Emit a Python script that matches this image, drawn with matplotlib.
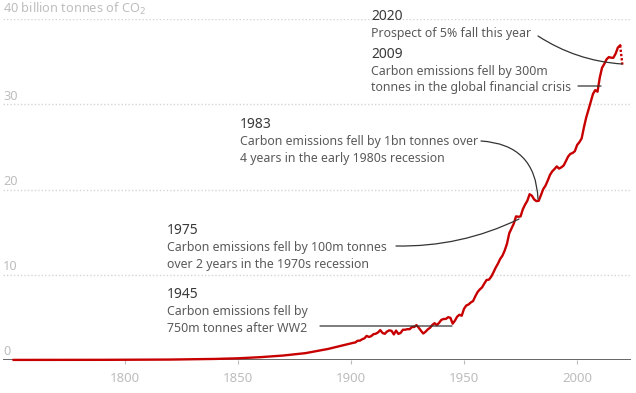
import matplotlib
matplotlib.use("Agg")
import matplotlib.pyplot as plt

years = [1751, 1760, 1770, 1780, 1790, 1800, 1810, 1820, 1830, 1840, 1850, 1860, 1870, 1880, 1890,
         1900, 1901, 1902, 1903, 1904, 1905, 1906, 1907, 1908, 1909,
         1910, 1911, 1912, 1913, 1914, 1915, 1916, 1917, 1918, 1919,
         1920, 1921, 1922, 1923, 1924, 1925, 1926, 1927, 1928, 1929,
         1930, 1931, 1932, 1933, 1934, 1935, 1936, 1937, 1938, 1939,
         1940, 1941, 1942, 1943, 1944, 1945, 1946, 1947, 1948, 1949,
         1950, 1951, 1952, 1953, 1954, 1955, 1956, 1957, 1958, 1959,
         1960, 1961, 1962, 1963, 1964, 1965, 1966, 1967, 1968, 1969,
         1970, 1971, 1972, 1973, 1974, 1975, 1976, 1977, 1978, 1979,
         1980, 1981, 1982, 1983, 1984, 1985, 1986, 1987, 1988, 1989,
         1990, 1991, 1992, 1993, 1994, 1995, 1996, 1997, 1998, 1999,
         2000, 2001, 2002, 2003, 2004, 2005, 2006, 2007, 2008, 2009,
         2010, 2011, 2012, 2013, 2014, 2015, 2016, 2017, 2018, 2019]
emissions = [0.01, 0.01, 0.011, 0.014, 0.02, 0.029, 0.036, 0.051, 0.087, 0.125, 0.197, 0.332, 0.522, 0.806, 1.30,
             1.95, 2.01, 2.06, 2.26, 2.27, 2.43, 2.54, 2.83, 2.70, 2.80,
             3.03, 3.08, 3.23, 3.51, 3.17, 3.07, 3.34, 3.48, 3.42, 3.00,
             3.45, 3.06, 3.18, 3.55, 3.55, 3.62, 3.61, 3.87, 3.87, 4.09,
             3.79, 3.43, 3.11, 3.31, 3.59, 3.78, 4.11, 4.32, 4.09, 4.36,
             4.71, 4.81, 4.82, 5.02, 4.95, 4.26, 4.62, 5.09, 5.31, 5.19,
             6.00, 6.39, 6.51, 6.75, 6.91, 7.47, 7.97, 8.28, 8.52, 8.98,
             9.39, 9.42, 9.76, 10.27, 10.83, 11.30, 11.86, 12.24, 12.85, 13.64,
             14.86, 15.42, 16.00, 16.85, 16.80, 16.84, 17.68, 18.23, 18.68, 19.45,
             19.27, 18.84, 18.64, 18.67, 19.33, 20.04, 20.44, 21.04, 21.71, 22.13,
             22.40, 22.71, 22.45, 22.60, 22.80, 23.31, 23.86, 24.18, 24.28, 24.50,
             25.23, 25.55, 26.00, 27.29, 28.44, 29.34, 30.29, 31.21, 31.66, 31.47,
             33.13, 34.28, 34.73, 35.27, 35.53, 35.46, 35.45, 35.93, 36.65, 36.90]
proj_years = [2019, 2020]
proj_emissions = [36.90, 34.60]

x_ticks = [1800, 1850, 1900, 1950, 2000]
y_ticks = [0, 10, 20, 30, 40]
y_labels = ["0", "10", "20", "30", "40 billion tonnes of CO$_2$"]

annotations = [
    ("2020", ["Prospect of 5% fall this year"]),
    ("2009", ["Carbon emissions fell by 300m", "tonnes in the global financial crisis"]),
    ("1983", ["Carbon emissions fell by 1bn tonnes over", "4 years in the early 1980s recession"]),
    ("1975", ["Carbon emissions fell by 100m tonnes", "over 2 years in the 1970s recession"]),
    ("1945", ["Carbon emissions fell by", "750m tonnes after WW2"]),
]

W, H = 636, 393
RED = "#c70000"
TXT = "#5a5a5a"
LIGHT = "#bdbdbd"
plt.rcParams['font.family'] = ['Noto Sans', 'DejaVu Sans']

fig = plt.figure(figsize=(W / 100, H / 100), dpi=100)
ax = fig.add_axes([3 / W, (H - 360) / H, 628 / W, 341 / H])
ax.set_xlim(1746.3, 2023.8)
ax.set_ylim(0, 40)
for s in ax.spines.values():
    s.set_visible(False)

for v in y_ticks[1:]:
    ax.axhline(v, color="#d4d4d4", lw=1, ls=(0, (1, 1.5)), zorder=1)
ax.axhline(0, color="#666666", lw=1.4, zorder=2)

for v, lab in zip(y_ticks, y_labels):
    ax.annotate(lab, xy=(0, v), xycoords=("axes fraction", "data"), xytext=(0, 1.2),
                textcoords="offset points", ha="left", va="bottom", color=LIGHT, fontsize=9.2)

ax.set_yticks([])
ax.set_xticks(x_ticks)
ax.set_xticklabels([str(t) for t in x_ticks])
ax.tick_params(axis="x", length=3, color="#bbbbbb", labelcolor=LIGHT, labelsize=9.5, pad=6)

ax.plot(years, emissions, color=RED, lw=1.7, zorder=3, solid_joinstyle="round", clip_on=False)
ax.plot(proj_years, proj_emissions, color=RED, lw=1.7, ls=(0, (1, 0.8)), zorder=3, clip_on=False)

def fp(px, py):
    return (px, H - py)

# text blocks: (x, y of year line) in pixels
blocks = [(371, 16), (371, 54), (240, 125), (167, 231), (167, 295)]
for (yr, lines), (bx, by) in zip(annotations, blocks):
    ax.annotate(yr, xy=fp(bx, by), xycoords="figure pixels", ha="left", va="center",
                color="#3a3a3a", fontsize=10)
    for i, ln in enumerate(lines):
        ax.annotate(ln, xy=fp(bx, by + 17 + 16.3 * i), xycoords="figure pixels", ha="left",
                    va="center", color=TXT, fontsize=8.9)

conn = dict(arrowstyle="-", color="#333333", lw=0.9, shrinkA=0, shrinkB=0)
ax.annotate("", xy=fp(622, 64), xycoords="figure pixels", xytext=fp(538, 36),
            textcoords="figure pixels", arrowprops=dict(conn, connectionstyle="arc3,rad=0.13"))
ax.annotate("", xy=fp(601, 86), xycoords="figure pixels", xytext=fp(578, 86),
            textcoords="figure pixels", arrowprops=conn)
ax.annotate("", xy=fp(538, 199), xycoords="figure pixels", xytext=fp(481, 141),
            textcoords="figure pixels", arrowprops=dict(conn, connectionstyle="arc3,rad=-0.45"))
ax.annotate("", xy=fp(519, 219), xycoords="figure pixels", xytext=fp(396, 246),
            textcoords="figure pixels", arrowprops=dict(conn, connectionstyle="arc3,rad=0.12"))
ax.annotate("", xy=fp(452, 326), xycoords="figure pixels", xytext=fp(320, 326),
            textcoords="figure pixels", arrowprops=conn)

fig.savefig("out.png", dpi=100)
